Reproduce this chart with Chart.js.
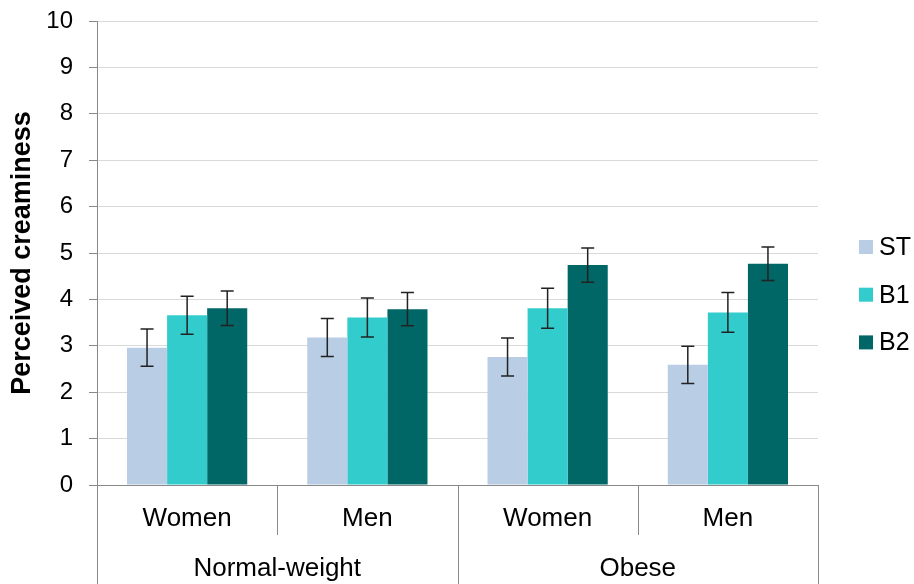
<!DOCTYPE html>
<html>
<head>
<meta charset="utf-8">
<script src="https://cdn.jsdelivr.net/npm/chart.js@4"></script>
<style>
  html, body { margin: 0; padding: 0; background: #fff; }
  #wrap { width: 914px; height: 584px; position: relative; }
</style>
</head>
<body>
<div id="wrap"><canvas id="chart"></canvas></div>
<script>
// ---------------- Data -----------------------
const subgroupLabels = ["Women", "Men", "Women", "Men"];
const groupLabels    = ["Normal-weight", "Obese"];
const seriesNames    = ["ST", "B1", "B2"];

const stValues = [2.96, 3.18, 2.76, 2.59];
const b1Values = [3.66, 3.61, 3.81, 3.72];
const b2Values = [3.81, 3.79, 4.74, 4.77];

const stErr = [0.40, 0.41, 0.41, 0.40];
const b1Err = [0.41, 0.42, 0.43, 0.43];
const b2Err = [0.37, 0.36, 0.37, 0.36];

const yTicks = [0, 1, 2, 3, 4, 5, 6, 7, 8, 9, 10];

const colors = ["#B9CDE5", "#33CCCC", "#006666"];
const FONT = "'Liberation Sans', Arial, sans-serif";
const AXIS_GRAY = "#898989";

// ---------------- Plugins -----------------------

// error bars drawn on top of the bars
const errorBars = {
  id: "errorBars",
  afterDatasetsDraw(chart) {
    const ctx = chart.ctx;
    const y = chart.scales.y;
    chart.data.datasets.forEach((ds, di) => {
      const meta = chart.getDatasetMeta(di);
      meta.data.forEach((bar, i) => {
        const v = ds.data[i];
        const e = ds.errors[i];
        const top = y.getPixelForValue(v + e);
        const bot = y.getPixelForValue(v - e);
        ctx.save();
        ctx.strokeStyle = "#222";
        ctx.lineWidth = 1.5;
        ctx.beginPath();
        ctx.moveTo(bar.x, top); ctx.lineTo(bar.x, bot);
        ctx.moveTo(bar.x - 6.5, top); ctx.lineTo(bar.x + 6.5, top);
        ctx.moveTo(bar.x - 6.5, bot); ctx.lineTo(bar.x + 6.5, bot);
        ctx.stroke();
        ctx.restore();
      });
    });
  }
};

// two-level category axis + legend on the right
const groupAxis = {
  id: "groupAxis",
  afterDraw(chart) {
    const ctx = chart.ctx;
    const x = chart.scales.x;
    const area = chart.chartArea;
    const base = area.bottom;
    const bottom = chart.height;
    const centers = subgroupLabels.map((_, i) => x.getPixelForValue(i));

    ctx.save();
    ctx.strokeStyle = AXIS_GRAY;
    ctx.lineWidth = 1;
    ctx.beginPath();
    // long dividers (outer edges and between groups)
    [area.left, (centers[1] + centers[2]) / 2, area.right].forEach((px) => {
      px = Math.round(px) + 0.5;
      ctx.moveTo(px, base); ctx.lineTo(px, bottom);
    });
    // short dividers inside each group
    [(centers[0] + centers[1]) / 2, (centers[2] + centers[3]) / 2].forEach((px) => {
      px = Math.round(px) + 0.5;
      ctx.moveTo(px, base); ctx.lineTo(px, base + 50);
    });
    ctx.stroke();

    ctx.fillStyle = "#000";
    ctx.font = "26px " + FONT;
    ctx.textAlign = "center";
    ctx.textBaseline = "middle";
    subgroupLabels.forEach((lab, i) => ctx.fillText(lab, centers[i], base + 34));
    groupLabels.forEach((lab, g) => {
      const cx = (centers[g * 2] + centers[g * 2 + 1]) / 2;
      ctx.fillText(lab, cx, base + 84);
    });

    // legend
    ctx.font = "25px " + FONT;
    ctx.textAlign = "left";
    seriesNames.forEach((name, i) => {
      const cy = 247 + i * 47.7;
      ctx.fillStyle = colors[i];
      ctx.fillRect(859, cy - 7, 14, 14);
      ctx.fillStyle = "#000";
      ctx.fillText(name, 879, cy + 1);
    });
    ctx.restore();
  }
};

// ---------------- Chart -----------------------

new Chart(document.getElementById("chart"), {
  type: "bar",
  data: {
    labels: subgroupLabels,
    datasets: [
      { label: seriesNames[0], data: stValues, errors: stErr, backgroundColor: colors[0] },
      { label: seriesNames[1], data: b1Values, errors: b1Err, backgroundColor: colors[1] },
      { label: seriesNames[2], data: b2Values, errors: b2Err, backgroundColor: colors[2] }
    ]
  },
  options: {
    responsive: true,
    maintainAspectRatio: false,
    animation: false,
    layout: { padding: { left: 0, top: 21, right: 96, bottom: 99 } },
    datasets: { bar: { categoryPercentage: 0.667, barPercentage: 1.0 } },
    plugins: { legend: { display: false }, tooltip: { enabled: false } },
    scales: {
      x: {
        ticks: { display: false },
        grid: { display: false },
        border: { color: AXIS_GRAY },
        afterFit(scale) { scale.height = 0; }
      },
      y: {
        min: 0,
        max: 10,
        afterBuildTicks(scale) { scale.ticks = yTicks.map((v) => ({ value: v })); },
        ticks: { color: "#000", font: { family: FONT, size: 24 }, padding: 16 },
        grid: { color: "#d9d9d9", tickColor: AXIS_GRAY, tickLength: 8 },
        border: { color: AXIS_GRAY },
        title: {
          display: true,
          text: "Perceived creaminess",
          color: "#000",
          font: { family: FONT, size: 27, weight: "bold" },
          padding: { top: 6, bottom: 0 }
        },
        afterFit(scale) {
          scale.width = 97;
          scale.paddingTop = 0;
          scale.paddingBottom = 0;
        }
      }
    }
  },
  plugins: [errorBars, groupAxis]
});
</script>
</body>
</html>
